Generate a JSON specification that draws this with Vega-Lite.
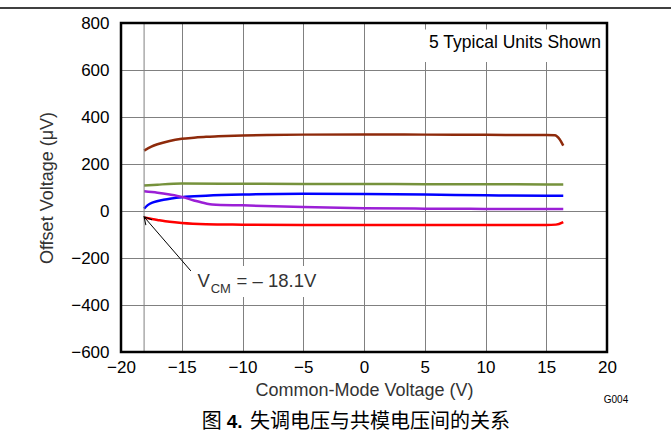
{
  "$schema": "https://vega.github.io/schema/vega-lite/v6.json",
  "width": 486,
  "height": 329,
  "autosize": {"type": "none"},
  "padding": {"left": 121, "top": 23, "right": 64, "bottom": 84},
  "background": "white",
  "config": {
    "view": {"stroke": null},
    "font": "Liberation Sans",
    "axis": {
      "domain": false,
      "ticks": false,
      "gridColor": "#808080",
      "gridWidth": 1,
      "labelFont": "Liberation Sans",
      "labelFontSize": 17,
      "labelColor": "black",
      "titleFont": "Liberation Sans",
      "titleFontSize": 18,
      "titleFontWeight": "normal",
      "titleColor": "#333333"
    }
  },
  "datasets": {
    "series": [
      {"s": "brown", "x": -18.1, "y": 257}, {"s": "brown", "x": -17.5, "y": 274}, {"s": "brown", "x": -17, "y": 284}, {"s": "brown", "x": -16, "y": 298}, {"s": "brown", "x": -15, "y": 307}, {"s": "brown", "x": -14, "y": 312}, {"s": "brown", "x": -13, "y": 316}, {"s": "brown", "x": -12, "y": 318}, {"s": "brown", "x": -10, "y": 321}, {"s": "brown", "x": -8, "y": 323}, {"s": "brown", "x": -5, "y": 325}, {"s": "brown", "x": 0, "y": 326}, {"s": "brown", "x": 5, "y": 325}, {"s": "brown", "x": 10, "y": 324}, {"s": "brown", "x": 15, "y": 323}, {"s": "brown", "x": 15.7, "y": 322}, {"s": "brown", "x": 16.1, "y": 305}, {"s": "brown", "x": 16.4, "y": 278},
      {"s": "green", "x": -18.1, "y": 108}, {"s": "green", "x": -17, "y": 112}, {"s": "green", "x": -15, "y": 117}, {"s": "green", "x": -10, "y": 116}, {"s": "green", "x": -5, "y": 115}, {"s": "green", "x": 0, "y": 115}, {"s": "green", "x": 5, "y": 114}, {"s": "green", "x": 10, "y": 114}, {"s": "green", "x": 15, "y": 113}, {"s": "green", "x": 16.4, "y": 113},
      {"s": "blue", "x": -18.1, "y": 10}, {"s": "blue", "x": -17.8, "y": 25}, {"s": "blue", "x": -17.3, "y": 38}, {"s": "blue", "x": -16.5, "y": 48}, {"s": "blue", "x": -15, "y": 59}, {"s": "blue", "x": -13, "y": 65}, {"s": "blue", "x": -10, "y": 70}, {"s": "blue", "x": -5, "y": 73}, {"s": "blue", "x": 0, "y": 72}, {"s": "blue", "x": 5, "y": 70}, {"s": "blue", "x": 10, "y": 67}, {"s": "blue", "x": 15, "y": 65}, {"s": "blue", "x": 16.4, "y": 65},
      {"s": "purple", "x": -18.1, "y": 84}, {"s": "purple", "x": -17, "y": 78}, {"s": "purple", "x": -16, "y": 70}, {"s": "purple", "x": -15, "y": 60}, {"s": "purple", "x": -14, "y": 45}, {"s": "purple", "x": -13, "y": 32}, {"s": "purple", "x": -12.5, "y": 28}, {"s": "purple", "x": -10, "y": 24}, {"s": "purple", "x": -5, "y": 17}, {"s": "purple", "x": 0, "y": 12}, {"s": "purple", "x": 5, "y": 10}, {"s": "purple", "x": 10, "y": 9}, {"s": "purple", "x": 16.4, "y": 8},
      {"s": "red", "x": -18.1, "y": -28}, {"s": "red", "x": -17, "y": -38}, {"s": "red", "x": -16, "y": -46}, {"s": "red", "x": -15, "y": -51}, {"s": "red", "x": -13, "y": -56}, {"s": "red", "x": -10, "y": -58}, {"s": "red", "x": -5, "y": -60}, {"s": "red", "x": 0, "y": -60}, {"s": "red", "x": 5, "y": -60}, {"s": "red", "x": 10, "y": -60}, {"s": "red", "x": 15, "y": -60}, {"s": "red", "x": 15.8, "y": -58}, {"s": "red", "x": 16.4, "y": -47}
    ]
  },
  "encoding": {
    "x": {"field": "x", "type": "quantitative", "scale": {"domain": [-20, 20], "nice": false, "zero": false},
      "axis": {"values": [-20, -15, -10, -5, 0, 5, 10, 15, 20], "title": "Common-Mode Voltage (V)", "grid": true, "labelPadding": 7, "titlePadding": 6, "labelFlush": false}},
    "y": {"field": "y", "type": "quantitative", "scale": {"domain": [-600, 800], "nice": false, "zero": false},
      "axis": {"values": [-600, -400, -200, 0, 200, 400, 600, 800], "title": "Offset Voltage (μV)", "grid": true, "labelPadding": 12, "titlePadding": 14, "labelFlush": false}}
  },
  "layer": [
    {
      "data": {"name": "series"},
      "mark": {"type": "line", "strokeWidth": 2.5, "interpolate": "monotone"},
      "encoding": {
        "color": {"field": "s", "type": "nominal", "legend": null,
          "scale": {"domain": ["brown", "green", "blue", "purple", "red"], "range": ["#8E2A0B", "#76923C", "#0000FF", "#9B1FD6", "#FF0000"]}}
      }
    },
    {
      "data": {"values": [{"x": -18.1, "y": -600, "y2": 800}]},
      "mark": {"type": "rule", "color": "#808080", "strokeWidth": 1},
      "encoding": {"y2": {"field": "y2"}}
    },
    {
      "data": {"values": [{"x": 3.3, "x2": 20, "y": 634, "y2": 772}, {"x": -14.3, "x2": -3.6, "y": -366, "y2": -234}]},
      "mark": {"type": "rect", "fill": "white"},
      "encoding": {"x2": {"field": "x2"}, "y2": {"field": "y2"}}
    },
    {
      "data": {"values": [{"x": -18.1, "y": -25, "x2": -14.25, "y2": -255}]},
      "mark": {"type": "rule", "color": "black", "strokeWidth": 1},
      "encoding": {"x2": {"field": "x2"}, "y2": {"field": "y2"}}
    },
    {
      "data": {"values": [{"x": -18.1, "y": -25}]},
      "mark": {"type": "point", "shape": "M-0.55,1L0,0L0.55,1", "size": 220, "angle": 319, "filled": false, "stroke": "black", "strokeWidth": 1, "opacity": 1}
    },
    {
      "data": {"values": [{"x": 20, "x2": -20, "y": -600, "y2": 800}]},
      "mark": {"type": "rect", "fill": "transparent", "stroke": "black", "strokeWidth": 2.5},
      "encoding": {"x2": {"field": "x2"}, "y2": {"field": "y2"}}
    },
    {
      "data": {"values": [{"x": -30, "x2": 26, "y": 864}]},
      "mark": {"type": "rule", "color": "black", "strokeWidth": 1.5},
      "encoding": {"x2": {"field": "x2"}}
    },
    {
      "data": {"values": [{"x": 19.5, "y": 713, "t": "5 Typical Units Shown"}]},
      "mark": {"type": "text", "align": "right", "baseline": "middle", "fontSize": 17.5, "font": "Liberation Sans", "color": "black"},
      "encoding": {"text": {"field": "t"}}
    },
    {
      "data": {"values": [{"x": -13.7, "y": -325, "t": "V"}, {"x": -10.49, "y": -325, "t": "= – 18.1V"}]},
      "mark": {"type": "text", "align": "left", "baseline": "alphabetic", "fontSize": 18.5, "font": "Liberation Sans", "color": "#333333"},
      "encoding": {"text": {"field": "t"}}
    },
    {
      "data": {"values": [{"x": -12.62, "y": -347, "t": "CM"}]},
      "mark": {"type": "text", "align": "left", "baseline": "alphabetic", "fontSize": 13, "font": "Liberation Sans", "color": "#333333"},
      "encoding": {"text": {"field": "t"}}
    },
    {
      "data": {"values": [{"x": 20.74, "y": -804, "t": "G004"}]},
      "mark": {"type": "text", "align": "center", "baseline": "middle", "fontSize": 10, "font": "Liberation Sans", "color": "black"},
      "encoding": {"text": {"field": "t"}}
    },
    {
      "data": {"values": [{"x": -13.36, "y": -898, "t": "图"}, {"x": -9.38, "y": -898, "t": "失调电压与共模电压间的关系"}]},
      "mark": {"type": "text", "align": "left", "baseline": "middle", "fontSize": 20, "font": "Noto Sans CJK SC", "color": "black"},
      "encoding": {"text": {"field": "t"}}
    },
    {
      "data": {"values": [{"x": -11.3, "y": -898, "t": "4."}]},
      "mark": {"type": "text", "align": "left", "baseline": "middle", "fontSize": 19, "font": "Liberation Sans", "fontWeight": "bold", "color": "black"},
      "encoding": {"text": {"field": "t"}}
    }
  ]
}
